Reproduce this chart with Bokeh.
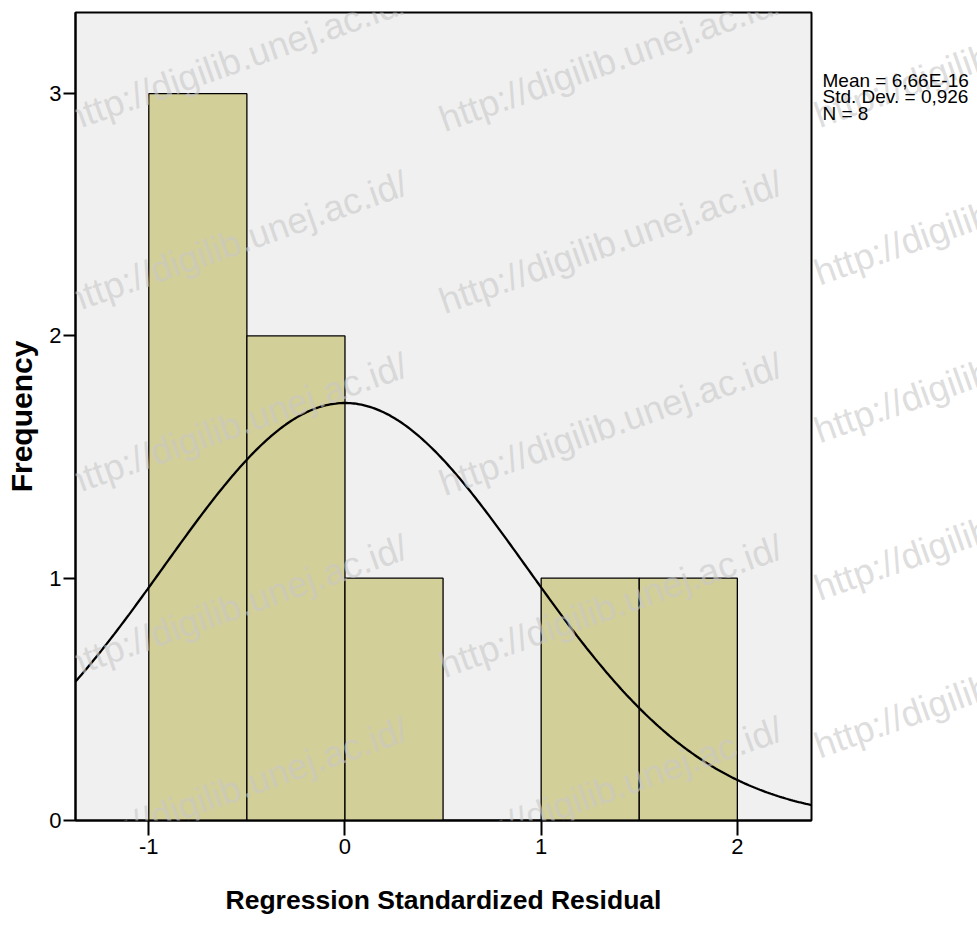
import numpy as np
from bokeh.plotting import figure
from bokeh.layouts import row
from bokeh.models import Range1d, Label, FixedTicker
from bokeh.core.properties import value
from bokeh.embed import file_html
from bokeh.resources import INLINE

# ---- data ----
bin_left = [-1.0, -0.5, 0.0, 0.5, 1.0, 1.5]
bin_right = [-0.5, 0.0, 0.5, 1.0, 1.5, 2.0]
frequency = [3, 2, 1, 0, 1, 1]
x_ticks = [-1, 0, 1, 2]
x_tick_labels = ["-1", "0", "1", "2"]
y_ticks = [0, 1, 2, 3]
stat_mean = 6.66e-16
stat_sd = 0.926
stat_n = 8
stats_lines = ["Mean = 6,66E-16", "Std. Dev. = 0,926", "N = 8"]
watermark = "http://digilib.unej.ac.id/"

# ---- layout ----
W, H = 977, 933
MAIN_W = 813                        # main chart width; side strip holds the stats
X_MIN, X_MAX = -1.3736, 2.378
Y_MIN, Y_MAX = 0.0, 3.335
FRAME_L, FRAME_B = 75, 820          # canvas pixels of frame left / bottom
PX_PER_X, PX_PER_Y = 196.2, 242.3

def px2x(px):
    return X_MIN + (px - FRAME_L) / PX_PER_X

def py2y(py):
    return (FRAME_B - py) / PX_PER_Y

FONT = "Liberation Sans"
WM_COLOR, WM_ALPHA, WM_SIZE, WM_ANGLE = "#c8c8c8", 0.6, "36.5px", 19.5
wm_cols = [-310, 65, 440, 815]
wm_rows = [120, 302, 484, 666, 848, 1030]

p = figure(width=MAIN_W, height=H,
           x_range=Range1d(X_MIN, X_MAX), y_range=Range1d(Y_MIN, Y_MAX),
           output_backend="svg", toolbar_location=None,
           min_border_left=75, min_border_right=MAIN_W - 811,
           min_border_top=12, min_border_bottom=H - 820)
p.title.visible = False
p.background_fill_color = "#f0f0f0"
p.border_fill_color = "white"
p.outline_line_color = "black"
p.outline_line_width = 2
p.grid.visible = False

for ax in (p.xaxis[0], p.yaxis[0]):
    ax.minor_tick_line_color = None
    ax.major_tick_in = 0
    ax.major_tick_line_width = 2
    ax.major_tick_line_color = "black"
    ax.axis_line_color = "black"
    ax.axis_line_width = 2
    ax.major_label_text_font = FONT
    ax.major_label_text_font_size = "22px"
    ax.major_label_text_color = "black"
    ax.axis_label_text_font = FONT
    ax.axis_label_text_font_style = "bold"
    ax.axis_label_text_color = "black"

p.xaxis.ticker = FixedTicker(ticks=x_ticks)
p.xaxis.major_label_overrides = {t: s for t, s in zip(x_ticks, x_tick_labels)}
p.yaxis.ticker = FixedTicker(ticks=y_ticks)
p.xaxis.major_tick_out = 15
p.yaxis.major_tick_out = 12
p.xaxis.major_label_standoff = 3
p.yaxis.major_label_standoff = 2

p.xaxis.axis_label = "Regression Standardized Residual"
p.xaxis.axis_label_text_font_size = "26.5px"
p.xaxis.axis_label_standoff = 28

p.yaxis.axis_label = "Frequency"
p.yaxis.axis_label_text_font_size = "30px"
p.yaxis.axis_label_standoff = 8

# bars
p.quad(left=bin_left, right=bin_right, bottom=0, top=frequency,
       fill_color="#d3cf98", line_color="black", line_width=1.3)

# normal curve from the reported statistics
bin_w = bin_right[0] - bin_left[0]
xs = np.linspace(X_MIN, X_MAX, 400)
ys = stat_n * bin_w / (stat_sd * np.sqrt(2 * np.pi)) * np.exp(-0.5 * ((xs - stat_mean) / stat_sd) ** 2)
p.line(xs, ys, line_color="black", line_width=2.3)

# watermark tiles inside the plot area
for cx in wm_cols:
    for ry in wm_rows:
        p.add_layout(Label(x=px2x(cx), y=py2y(ry), text=watermark,
                           angle=WM_ANGLE, angle_units="deg",
                           text_font=FONT, text_font_size=WM_SIZE,
                           text_color=WM_COLOR, text_alpha=WM_ALPHA,
                           text_baseline="alphabetic", text_align="left"))

# ---- side strip with the statistics text ----
SIDE_W = W - MAIN_W
s = figure(width=SIDE_W, height=H, x_range=Range1d(MAIN_W, W), y_range=Range1d(0, H),
           output_backend="svg", toolbar_location=None,
           min_border=0, min_border_left=0, min_border_right=0,
           min_border_top=0, min_border_bottom=0)
s.axis.visible = False
s.grid.visible = False
s.outline_line_color = None
s.background_fill_color = "white"
s.border_fill_color = "white"
s.title.visible = False

wm_x = [cx for cx in wm_cols for ry in wm_rows]
wm_y = [H - ry for cx in wm_cols for ry in wm_rows]
s.text(x=wm_x, y=wm_y, text=[watermark] * len(wm_x), angle=WM_ANGLE, angle_units="deg",
       text_font=value(FONT), text_font_size=WM_SIZE, text_color=WM_COLOR,
       text_alpha=WM_ALPHA, text_baseline="alphabetic", text_align="left")

stat_y = [H - (78.3 + 19.2 * i) for i in range(len(stats_lines))]
s.text(x=[822] * len(stats_lines), y=stat_y, text=stats_lines,
       text_font=value(FONT), text_font_size="19px", text_color="black",
       text_baseline="alphabetic", text_align="left")

layout = row(p, s, spacing=0)
open("out.html", "w").write(file_html(layout, INLINE))
